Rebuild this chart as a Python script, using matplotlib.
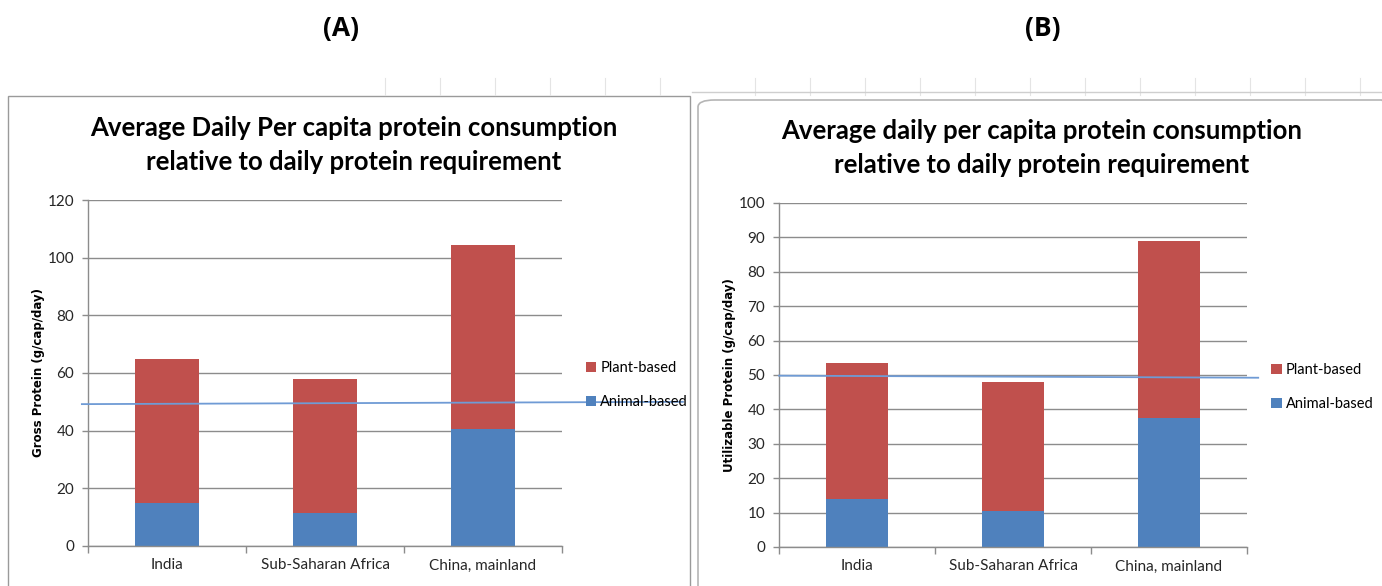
import matplotlib.pyplot as plt
import matplotlib.transforms as mtransforms
from matplotlib.patches import FancyBboxPatch, Rectangle
import numpy as np

# data
regions = ['India', 'Sub-Saharan Africa', 'China, mainland']

gross_animal = [15.0, 11.5, 40.5]
gross_plant = [50.0, 46.5, 64.0]
gross_requirement = [49.2, 50.0]

util_animal = [14.0, 10.5, 37.5]
util_plant = [39.5, 37.5, 51.5]
util_requirement = [49.8, 49.2]

RED = '#C0504D'
BLUE = '#4F81BD'
LINE_BLUE = '#6F9BD5'
GRID = '#8C8C8C'
FONT = 'Lato'


def main():
    fig = plt.figure(figsize=(13.82, 5.86), dpi=100)
    drawFrames(fig)

    ax_a = fig.add_axes([0.0637, 0.0683, 0.343, 0.5904])
    plotPanel(ax_a, gross_animal, gross_plant, gross_requirement,
              ylim=120, ystep=20,
              ylabel='Gross Protein (g/cap/day)',
              line_span=(-0.013, 1.255), legend_x=1.022)

    ax_b = fig.add_axes([0.5637, 0.0666, 0.3386, 0.587])
    plotPanel(ax_b, util_animal, util_plant, util_requirement,
              ylim=100, ystep=10,
              ylabel='Utilizable Protein (g/cap/day)',
              line_span=(0.0, 1.024), legend_x=1.024)

    fig.text(0.256, 0.7526,
             'Average Daily Per capita protein consumption\nrelative to daily protein requirement',
             ha='center', va='center', fontsize=18.5, fontweight='bold',
             family=FONT, linespacing=1.5)
    fig.text(0.754, 0.7474,
             'Average daily per capita protein consumption\nrelative to daily protein requirement',
             ha='center', va='center', fontsize=18.5, fontweight='bold',
             family=FONT, linespacing=1.5)

    fig.text(0.2467, 0.952, '(A)', ha='center', va='center', fontsize=19,
             fontweight='bold', family='Open Sans')
    fig.text(0.7547, 0.952, '(B)', ha='center', va='center', fontsize=19,
             fontweight='bold', family='Open Sans')

    fig.savefig('out.png', dpi=100)


def drawFrames(fig):
    """Grey chart-area borders copied from the spreadsheet screenshot."""
    W, H = 1382.0, 586.0

    for px in [385, 440, 495, 550, 605, 660, 755, 810, 865, 920, 975, 1030,
               1085, 1140, 1195, 1250, 1305, 1360]:
        fig.add_artist(plt.Line2D([px / W, px / W], [1 - 78 / H, 1 - 95 / H],
                                  color='#E4E4E4', lw=0.8))

    fig.add_artist(Rectangle((8 / W, -0.01), 682 / W, 1 - 96 / H + 0.01,
                             transform=fig.transFigure, fill=False,
                             edgecolor='#9A9A9A', lw=1.0))
    fig.add_artist(plt.Line2D([692 / W, 1382 / W], [1 - 92 / H, 1 - 92 / H],
                              color='#CFCFCF', lw=1.0))
    fig.add_artist(FancyBboxPatch((698 / W, -0.05), 700 / W, 1 - 100 / H + 0.05,
                                  boxstyle='round,pad=0,rounding_size=0.012',
                                  transform=fig.transFigure, fill=False,
                                  edgecolor='#B5B5B5', lw=1.2))


def plotPanel(ax, animal, plant, requirement, ylim, ystep, ylabel,
              line_span, legend_x):
    x = np.arange(len(regions))
    width = 0.4

    ax.bar(x, animal, width, color=BLUE, zorder=2, label='Animal-based')
    ax.bar(x, plant, width, bottom=animal, color=RED, zorder=2, label='Plant-based')

    trans = mtransforms.blended_transform_factory(ax.transAxes, ax.transData)
    ax.plot(line_span, requirement, color=LINE_BLUE, lw=1.3, transform=trans,
            clip_on=False, zorder=3)

    ax.set_xlim(-0.5, len(regions) - 0.5)
    ax.set_ylim(0, ylim)
    ax.set_yticks(np.arange(0, ylim + 1, ystep))
    ax.yaxis.grid(True, color=GRID, lw=1.0, zorder=0)
    ax.set_axisbelow(True)

    ax.set_xticks(x)
    ax.set_xticklabels(regions, fontsize=11, family=FONT, color='#262626')
    ax.set_xticks(np.arange(-0.5, len(regions)), minor=True)
    ax.tick_params(axis='x', which='major', length=0, pad=9)
    ax.tick_params(axis='x', which='minor', length=5, color=GRID, width=1)
    ax.tick_params(axis='y', length=4, color=GRID, width=1, pad=6)
    for lab in ax.get_yticklabels():
        lab.set_fontsize(11)
        lab.set_family(FONT)
        lab.set_color('#262626')

    for side in ['top', 'right']:
        ax.spines[side].set_visible(False)
    for side in ['left', 'bottom']:
        ax.spines[side].set_color(GRID)
        ax.spines[side].set_linewidth(1.0)

    ax.set_ylabel(ylabel, fontsize=8.5, fontweight='bold', family='DejaVu Sans',
                  labelpad=2)

    handles, labels = ax.get_legend_handles_labels()
    ax.legend(handles[::-1], labels[::-1], loc='center left',
              bbox_to_anchor=(legend_x, 0.465), frameon=False,
              prop={'family': FONT, 'size': 10.5}, handlelength=0.7,
              handleheight=0.7, handletextpad=0.3, labelspacing=1.35)


if __name__ == '__main__':
    main()
